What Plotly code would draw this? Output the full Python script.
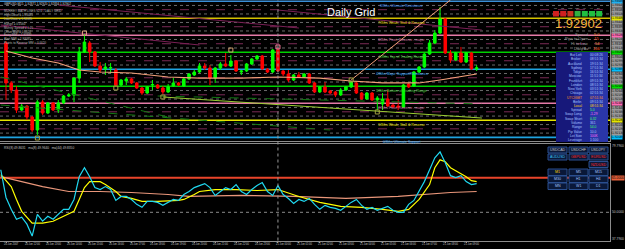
import plotly.graph_objects as go

# ---------------- data ----------------
open_ = [1.93194, 1.92724, 1.92641, 1.92406, 1.92453, 1.92324, 1.92171, 1.92500, 1.92371, 1.92489,
         1.92406, 1.92489, 1.92571, 1.92583, 1.92782, 1.93088, 1.93194, 1.93088, 1.92923, 1.92888,
         1.92900, 1.92876, 1.92700, 1.92747, 1.92771, 1.92724, 1.92665, 1.92606, 1.92700, 1.92700,
         1.92665, 1.92618, 1.92688, 1.92724, 1.92688, 1.92771, 1.92818, 1.92853, 1.92923, 1.92900,
         1.92782, 1.92900, 1.92947, 1.92923, 1.92982, 1.92853, 1.92865, 1.92947, 1.93006, 1.93041,
         1.92888, 1.92853, 1.93111, 1.92865, 1.92829, 1.92759, 1.92818, 1.92794, 1.92829, 1.92724,
         1.92618, 1.92677, 1.92630, 1.92618, 1.92583, 1.92641, 1.92677, 1.92724, 1.92606, 1.92536,
         1.92606, 1.92524, 1.92477, 1.92536, 1.92465, 1.92453, 1.92442, 1.92712, 1.92688, 1.92853,
         1.92912, 1.93064, 1.93194, 1.93311, 1.93476, 1.93076, 1.92994, 1.93076, 1.92970, 1.93076,
         1.92888]
high_ = [1.93217, 1.92747, 1.92688, 1.92477, 1.92465, 1.92336, 1.92524, 1.92524, 1.92500, 1.92500,
         1.92524, 1.92583, 1.92606, 1.92794, 1.93147, 1.93311, 1.93217, 1.93100, 1.92970, 1.92959,
         1.92959, 1.92900, 1.92771, 1.92794, 1.92782, 1.92735, 1.92677, 1.92688, 1.92759, 1.92712,
         1.92688, 1.92712, 1.92782, 1.92735, 1.92782, 1.92841, 1.92876, 1.92959, 1.92959, 1.92935,
         1.92912, 1.92970, 1.93076, 1.93053, 1.92994, 1.92876, 1.92959, 1.93017, 1.93053, 1.93053,
         1.92900, 1.93123, 1.93135, 1.92876, 1.92876, 1.92829, 1.92853, 1.92841, 1.92841, 1.92735,
         1.92688, 1.92735, 1.92641, 1.92630, 1.92665, 1.92688, 1.92747, 1.92735, 1.92618, 1.92618,
         1.92618, 1.92571, 1.92606, 1.92641, 1.92477, 1.92524, 1.92712, 1.92724, 1.92865, 1.92923,
         1.93076, 1.93229, 1.93346, 1.93617, 1.93488, 1.93111, 1.93088, 1.93147, 1.93088, 1.93088,
         1.92935]
low_ = [1.92524, 1.92606, 1.92371, 1.92394, 1.92289, 1.92148, 1.92113, 1.92348, 1.92359, 1.92394,
        1.92371, 1.92477, 1.92559, 1.92500, 1.92724, 1.93076, 1.92970, 1.92912, 1.92841, 1.92818,
        1.92841, 1.92677, 1.92688, 1.92700, 1.92712, 1.92653, 1.92583, 1.92594, 1.92641, 1.92653,
        1.92594, 1.92606, 1.92677, 1.92688, 1.92677, 1.92759, 1.92806, 1.92841, 1.92876, 1.92700,
        1.92724, 1.92876, 1.92912, 1.92912, 1.92853, 1.92818, 1.92853, 1.92935, 1.92994, 1.92876,
        1.92841, 1.92841, 1.92853, 1.92806, 1.92735, 1.92747, 1.92782, 1.92782, 1.92712, 1.92606,
        1.92606, 1.92606, 1.92594, 1.92559, 1.92571, 1.92630, 1.92665, 1.92594, 1.92524, 1.92524,
        1.92512, 1.92406, 1.92406, 1.92442, 1.92430, 1.92406, 1.92430, 1.92665, 1.92677, 1.92841,
        1.92900, 1.93053, 1.93182, 1.93299, 1.93064, 1.92959, 1.92982, 1.92959, 1.92959, 1.92876,
        1.92865]
close_ = [1.92724, 1.92641, 1.92406, 1.92453, 1.92324, 1.92171, 1.92500, 1.92371, 1.92489, 1.92406,
          1.92489, 1.92571, 1.92583, 1.92782, 1.93088, 1.93205, 1.93088, 1.92923, 1.92876, 1.92912,
          1.92906, 1.92700, 1.92759, 1.92771, 1.92724, 1.92665, 1.92606, 1.92677, 1.92706, 1.92665,
          1.92618, 1.92677, 1.92724, 1.92700, 1.92771, 1.92829, 1.92853, 1.92923, 1.92900, 1.92782,
          1.92900, 1.92947, 1.92923, 1.92982, 1.92865, 1.92865, 1.92947, 1.93006, 1.93041, 1.92888,
          1.92853, 1.93111, 1.92865, 1.92829, 1.92759, 1.92818, 1.92794, 1.92829, 1.92724, 1.92618,
          1.92677, 1.92618, 1.92606, 1.92583, 1.92641, 1.92677, 1.92735, 1.92606, 1.92536, 1.92606,
          1.92524, 1.92547, 1.92536, 1.92453, 1.92442, 1.92442, 1.92700, 1.92677, 1.92853, 1.92912,
          1.93064, 1.93194, 1.93311, 1.93476, 1.93076, 1.92994, 1.93076, 1.92970, 1.93076, 1.92888,
          1.92902]
bars = list(range(len(close_)))

tick_idx = [0, 4, 8, 12, 16, 20, 24, 28, 32, 36, 40, 44, 48, 52, 56, 60, 64, 68, 72, 76, 80, 84, 88]
tick_text = ["20 Jun 2007", "20 Jun 12:00", "20 Jun 13:00", "20 Jun 14:00", "20 Jun 15:00",
             "20 Jun 16:00", "20 Jun 17:00", "20 Jun 18:00", "20 Jun 19:00", "20 Jun 20:00",
             "20 Jun 21:00", "20 Jun 22:00", "20 Jun 23:00", "21 Jun 00:00", "21 Jun 01:00",
             "21 Jun 02:00", "21 Jun 03:00", "21 Jun 04:00", "21 Jun 05:00", "21 Jun 06:00",
             "21 Jun 07:00", "21 Jun 08:00", "21 Jun 09:00"]
day_break = 52

murrey_levels = [1.92085, 1.92285, 1.92485, 1.92685, 1.92885, 1.93085, 1.93285, 1.93485, 1.93685]
murrey_names = ["0/8ths Ultimate Support", "1/8ths Weak, Stall & Reverse",
                "2/8ths Pivot, Reverse - major", "3/8ths Bottom of Trading Range",
                "4/8ths Major Support/Resistance", "5/8ths Top of Trading Range",
                "6/8ths Pivot, Reverse - major", "7/8ths Weak, Stall & Reverse",
                "8/8ths Ultimate Resistance"]
murrey_line_colors = ["#1fa3e0", "#e6e600", "#e57aa8", "#00d000", "#1fa3e0",
                      "#00d000", "#e57aa8", "#d4c200", "#3a8fd8"]
murrey_text_colors = ["#3fb0ff", "#e6e000", "#d878a8", "#50d040", "#3fb0ff",
                      "#50d040", "#d878a8", "#e0d000", "#4a9cff"]
murrey_tag_colors = ["#00bfff", "#e6e600", "#ff69b4", "#00e000", "#00bfff",
                     "#00e000", "#ff69b4", "#e6e600", "#20b0f0"]

ma_idx = [0, 5, 10, 14, 18, 24, 31, 37, 45, 52, 60, 66, 72, 79, 83, 87, 90]
ma_val = [1.93100, 1.93017, 1.92959, 1.92876, 1.92853, 1.92841, 1.92794, 1.92782, 1.92782,
          1.92794, 1.92782, 1.92747, 1.92724, 1.92724, 1.92759, 1.92794, 1.92829]

trend_idx = [66, 85]
trend_val = [1.92759, 1.93700]

green_lines = [([-1, 31], [1.92794, 1.92324]), ([-1, 62], [1.92465, 1.92171]),
               ([29, 91], [1.92571, 1.92477])]
lime_line = ([30, 91], [1.92559, 1.92312])
purple_lines = [([10, 56], [1.93640, 1.93370]), ([-1, 37], [1.93405, 1.93170]),
                ([52, 91], [1.93581, 1.93346])]

fractal_idx = [6, 15, 21, 30, 43, 52, 66, 71]
fractal_val = [1.92077, 1.93311, 1.92665, 1.92559, 1.93111, 1.93147, 1.92759, 1.92383]
fractal_col = ["#a0a040", "#e0a080", "#a0a040", "#a0a040", "#d0a070", "#ff80a0", "#a0a040", "#a0a040"]

fast_idx = list(range(-1, 91))
fast_val = [68.43, 56.43, 51.29, 47.00, 47.86, 44.86, 39.71, 49.14, 46.14, 48.29, 47.00,
            49.14, 51.29, 51.29, 55.57, 65.43, 69.29, 65.43, 60.71, 59.86, 61.14,
            59.86, 55.14, 56.86, 56.86, 55.57, 53.43, 52.14, 54.71, 54.71, 54.29,
            53.00, 54.29, 55.57, 55.14, 57.71, 59.00, 60.71, 61.57, 62.43, 60.71,
            57.29, 59.00, 60.71, 59.86, 62.00, 59.00, 57.71, 59.86, 61.57, 62.86,
            59.00, 57.29, 61.57, 57.71, 56.00, 53.86, 55.57, 54.71, 56.00, 53.43,
            51.29, 53.00, 52.14, 51.71, 50.86, 52.57, 54.29, 55.57, 53.00, 51.29,
            52.14, 50.86, 51.71, 52.57, 50.86, 50.00, 50.00, 53.43, 55.14, 59.00,
            63.29, 68.43, 73.57, 76.14, 71.43, 65.86, 65.00, 65.86, 63.29, 62.00, 62.43]
signal_idx = [-1, 1, 2, 3, 5, 7, 9, 11, 13, 14, 15, 16, 18, 19, 21, 22, 24, 26, 29, 33, 34, 36,
              37, 40, 44, 48, 52, 56, 60, 64, 68, 72, 75, 77, 79, 81, 82, 83, 84, 85, 87, 88, 89, 90]
signal_val = [66.29, 61.14, 55.57, 50.43, 45.29, 45.29, 46.14, 48.29, 50.43, 55.57, 60.71, 63.29,
              63.29, 62.00, 59.00, 56.86, 56.00, 54.71, 54.71, 55.14, 55.57, 57.71, 59.00, 59.86,
              59.86, 59.43, 59.86, 56.86, 54.29, 52.57, 52.14, 51.29, 50.43, 51.29, 55.57, 62.00,
              69.29, 72.71, 71.86, 69.29, 66.71, 65.43, 63.71, 63.29]
slow_idx = [-1, 3, 7, 12, 18, 24, 31, 35, 45, 55, 65, 75, 80, 85, 90]
slow_val = [65.43, 63.29, 61.14, 59.00, 59.00, 58.57, 57.71, 56.86, 57.29, 56.86, 56.00, 56.86,
            57.71, 58.57, 59.00]
level_hi = 65.0
level_mid = 50.0

last_price = "1.92902"
stats_names = ["Spread", "Pips to Open", "Hi to Low", "Daily Av"]
stats_values = ["5.0", "-15", "54", "106"]
stats_colors = ["#ff9a30", "#ff4a20", "#ffa040", "#ff5a20"]

meter_tf = ["M1", "M5", "M15", "M30", "H1", "H4", "D1"]
meter_col = ["#d02020", "#d02020", "#c83020", "#30b040", "#20c040", "#20c040", "#20c040"]

info_names = ["Bar Left", "Broker", "Auckland", "Sydney", "Tokyo", "Moscow", "Frankfurt",
              "London", "New York", "Chicago", "UTC/GMT", "Berlin", "Local", "Spread",
              "Swap Long", "Swap Short", "Volume", "Range", "Pip Value", "Lot Size", "Leverage"]
info_values = ["00:08:26", "08:51:34", "19:51:34", "17:51:34", "16:51:34", "11:51:34", "09:51:34",
               "08:51:34", "03:51:34", "02:51:34", "07:51:34", "09:51:34", "08:51:34", "5.0",
               "-1.29", "0.32", "361", "54.0", "10.0", "100K", "1:100"]
info_colors = ["#a8c4ff"] * 10 + ["#ff9020", "#a8c4ff", "#ffd700"] + \
              ["#40ff60", "#ff70ff", "#40ff60", "#a8c4ff", "#40ff60", "#a8c4ff", "#ff70ff", "#a8c4ff"]

buttons = [("USDCAD", 0, 0, "#c8c8c8"), ("USDCHF", 1, 0, "#c8c8c8"), ("USDJPY", 2, 0, "#c8c8c8"),
           ("AUDUSD", 0, 1, "#40c8ff"), ("GBPUSD", 1, 1, "#ff2a2a"), ("EURUSD", 2, 1, "#ff2a2a"),
           ("NZDUSD", 2, 2, "#ff2a2a"),
           ("M1", 0, 3, "#ffd000"), ("M5", 1, 3, "#a8c4ff"), ("M15", 2, 3, "#a8c4ff"),
           ("M30", 0, 4, "#a8c4ff"), ("H1", 1, 4, "#a8c4ff"), ("H4", 2, 4, "#a8c4ff"),
           ("MN", 0, 5, "#a8c4ff"), ("W1", 1, 5, "#a8c4ff"), ("D1", 2, 5, "#a8c4ff")]

header_lines = ["GBPUSD,M15  1.92871 1.92920 1.92834 1.92902",
                "MURREY MATH LINES v2.0 - DAILY GRID",
                "High/Close = 1.93485", "Low/Close = 1.92085", "Range = 0.0160",
                "Murrey Spread = 1.25", "Offset MMl = 0.0020", "Entry MMl = 1.92885",
                "Alert MMl = 1.93085", "Points to Reverse MM = 0.0020"]
osc_caption = "RSI(8) 49.8631   ma(8) 49.9640   ma(44) 49.8350"

# ---------------- layout helpers ----------------
W, H = 625, 249
PLOT_R = 610
OSC_BOTTOM = 240.5


def pxx(x):
    return x / W


def pxy(y):
    return 1 - y / H


fig = go.Figure()
shapes = []
ann = []


def text(x, y, s, size, color, xanchor="left", yanchor="middle", xref="paper", yref="paper",
         bg=None, family="Arial"):
    d = dict(x=x, y=y, xref=xref, yref=yref, text=s, showarrow=False, xanchor=xanchor,
             yanchor=yanchor, font=dict(size=size, color=color, family=family), borderpad=0)
    if bg:
        d["bgcolor"] = bg
    ann.append(d)


# --- Murrey grid lines
step = (murrey_levels[1] - murrey_levels[0]) / 4
for k in range(len(murrey_levels) - 1):
    for j in (1, 2, 3):
        lv = murrey_levels[k] + j * step
        if j == 2:
            shapes.append(dict(type="line", xref="x domain", x0=0, x1=1, yref="y", y0=lv, y1=lv,
                               line=dict(color="#7a2a55", width=1, dash="dash"), layer="below"))
        else:
            shapes.append(dict(type="line", xref="x domain", x0=0, x1=1, yref="y", y0=lv, y1=lv,
                               line=dict(color="#6a6a6a", width=1, dash="dot"), layer="below"))
for lv, c in zip(murrey_levels, murrey_line_colors):
    shapes.append(dict(type="line", xref="x domain", x0=0, x1=1, yref="y", y0=lv, y1=lv,
                       line=dict(color=c, width=1.6), layer="below"))

# trend/diagonal lines
for xs, ys in purple_lines:
    fig.add_trace(go.Scatter(x=xs, y=ys, mode="lines", line=dict(color="#7a1f55", width=1),
                             hoverinfo="skip", xaxis="x", yaxis="y"))
for xs, ys in green_lines:
    fig.add_trace(go.Scatter(x=xs, y=ys, mode="lines", line=dict(color="#137a13", width=1, dash="dash"),
                             hoverinfo="skip", xaxis="x", yaxis="y"))
fig.add_trace(go.Scatter(x=lime_line[0], y=lime_line[1], mode="lines",
                         line=dict(color="#9acd32", width=1), hoverinfo="skip", xaxis="x", yaxis="y"))
fig.add_trace(go.Scatter(x=ma_idx, y=ma_val, mode="lines", line=dict(color="#f4a07a", width=1.2),
                         hoverinfo="skip", xaxis="x", yaxis="y"))
fig.add_trace(go.Scatter(x=trend_idx, y=trend_val, mode="lines", line=dict(color="#f4a07a", width=1),
                         hoverinfo="skip", xaxis="x", yaxis="y"))

fig.add_trace(go.Candlestick(
    x=bars, open=open_, high=high_, low=low_, close=close_, xaxis="x", yaxis="y",
    increasing=dict(line=dict(color="#00ff00", width=1), fillcolor="#00ff00"),
    decreasing=dict(line=dict(color="#ff0000", width=1), fillcolor="#ff0000"),
    whiskerwidth=0, hoverinfo="skip"))

fig.add_trace(go.Scatter(x=fractal_idx, y=fractal_val, mode="markers",
                         marker=dict(symbol="square-open", size=4, color=fractal_col,
                                     line=dict(width=1, color=fractal_col)),
                         hoverinfo="skip", xaxis="x", yaxis="y"))

# --- oscillator
shapes.append(dict(type="line", xref="x2 domain", x0=0, x1=1, yref="y2", y0=level_mid, y1=level_mid,
                   line=dict(color="#8a8a8a", width=1, dash="dot"), layer="below"))
shapes.append(dict(type="line", xref="x2 domain", x0=0, x1=1, yref="y2", y0=level_hi, y1=level_hi,
                   line=dict(color="#e8442a", width=2), layer="below"))
fig.add_trace(go.Scatter(x=slow_idx, y=slow_val, mode="lines", line=dict(color="#e9967a", width=1.2),
                         hoverinfo="skip", xaxis="x2", yaxis="y2"))
fig.add_trace(go.Scatter(x=signal_idx, y=signal_val, mode="lines", line=dict(color="#ffff00", width=1.2),
                         hoverinfo="skip", xaxis="x2", yaxis="y2"))
fig.add_trace(go.Scatter(x=fast_idx, y=fast_val, mode="lines", line=dict(color="#20d8f0", width=1.2),
                         hoverinfo="skip", xaxis="x2", yaxis="y2"))

# day separator
shapes.append(dict(type="line", xref="x", x0=day_break, x1=day_break, yref="paper",
                   y0=pxy(OSC_BOTTOM), y1=1, line=dict(color="#9a9a9a", width=1, dash="dot")))

# time labels along the bottom axis (placed by the x scale, left-aligned at each tick)
for ti, tt in zip(tick_idx, tick_text):
    ann.append(dict(x=ti, y=pxy(244.3), xref="x2", yref="paper", text=tt, showarrow=False,
                    xanchor="left", xshift=-4, yanchor="middle",
                    font=dict(size=2.6, color="#c8c8c8", family="Arial")))

# --- texts on the main chart
for k, s in enumerate(header_lines):
    ys = [4, 11, 15, 19, 24, 28, 31.5, 35, 39, 42.5][k]
    text(pxx(3), pxy(ys), s, 3.0, "#d0d0d0" if k == 0 else "#b8b8b8")
text(pxx(351), pxy(12), "Daily Grid", 11, "#ffffff", xanchor="center")
for lv, nm, c in zip(murrey_levels, murrey_names, murrey_text_colors):
    ann.append(dict(x=75.7, y=lv, xref="x", yref="y", text=nm, showarrow=False, xanchor="center",
                    yanchor="top", yshift=-0.5, font=dict(size=3.6, color=c, family="Arial")))

# right price strip
for k in range(len(murrey_levels) - 1):
    for j in range(4):
        lv = murrey_levels[k] + j * step
        col = murrey_tag_colors[k] if j == 0 else "#9a9a9a"
        text(pxx(611), lv, "%.4f" % lv, 3.3, "#000000", yref="y", bg=col)
text(pxx(611), murrey_levels[-1], "%.4f" % murrey_levels[-1], 3.3, "#000000", yref="y",
     bg=murrey_tag_colors[-1])

# info: big price, stats, strength meter
text(pxx(603), pxy(23), last_price, 13, "#f5b53c", xanchor="right")
for k, (n, v, c) in enumerate(zip(stats_names, stats_values, stats_colors)):
    yy = 34 + k * 4.7
    text(pxx(589), pxy(yy), n, 4.0, "#a0a0a0", xanchor="right")
    text(pxx(601), pxy(yy), v, 4.0, c, xanchor="right")
for k, (tf, c) in enumerate(zip(meter_tf, meter_col)):
    x0 = 553 + k * 7.2
    shapes.append(dict(type="rect", xref="paper", yref="paper", x0=pxx(x0), x1=pxx(x0 + 6),
                       y0=pxy(16.5), y1=pxy(11), fillcolor=c, line=dict(width=0)))
    text(pxx(x0 + 3), pxy(8), tf, 2.2, "#c0c0c0", xanchor="center")

# info box
for (a, b, c) in [(556, 574, "#17187a"), (574, 590, "#1f2896"), (590, 608, "#2a36a8")]:
    shapes.append(dict(type="rect", xref="paper", yref="paper", x0=pxx(a), x1=pxx(b),
                       y0=pxy(142), y1=pxy(52), fillcolor=c, line=dict(width=0), layer="above"))
for k, (n, v, c) in enumerate(zip(info_names, info_values, info_colors)):
    yy = 55 + k * 4.25
    ncol = c if n in ("UTC/GMT", "Local") else "#a8c4ff"
    text(pxx(583), pxy(yy), n, 3.3, ncol, xanchor="right")
    text(pxx(589), pxy(yy), v, 3.3, c)

# oscillator captions and buttons
text(pxx(3), pxy(147.5), osc_caption, 3.2, "#c0c0c0")
colx = [(548, 567), (569, 588), (589, 608)]
rowy = [(147, 153), (154, 160), (161.5, 167.5), (169, 175.5), (176, 182.5), (183, 189.5)]
for lab, cx, ry, c in buttons:
    x0, x1 = colx[cx]
    y0, y1 = rowy[ry]
    shapes.append(dict(type="rect", xref="paper", yref="paper", x0=pxx(x0), x1=pxx(x1),
                       y0=pxy(y1), y1=pxy(y0), fillcolor="#0a1838",
                       line=dict(color="#2b4f8f", width=1)))
    text(pxx((x0 + x1) / 2), pxy((y0 + y1) / 2), lab, 3.6, c, xanchor="center")

# oscillator right labels
text(pxx(611), pxy(146), "79.7900", 3.3, "#c0c0c0")
text(pxx(611), level_hi, "%.4f" % level_hi, 3.3, "#000000", yref="y2", bg="#e8603a")
text(pxx(611), level_mid, "%.4f" % level_mid, 3.3, "#c0c0c0", yref="y2")
text(pxx(611), pxy(238.5), "37.7900", 3.3, "#c0c0c0")

axis_common = dict(showgrid=False, zeroline=False, showline=True, linecolor="#8c8c8c", mirror=True,
                   automargin=False, fixedrange=True)
fig.update_layout(
    template="none",
    width=W, height=H, margin=dict(l=0, r=0, t=0, b=0),
    paper_bgcolor="#000000", plot_bgcolor="#000000", showlegend=False,
    xaxis=dict(domain=[0, PLOT_R / W], range=[-1.15, 115.5], showticklabels=False, ticks="",
               rangeslider=dict(visible=False), anchor="y", **axis_common),
    yaxis=dict(domain=[pxy(141), 1], range=[1.92042, 1.93699], showticklabels=False, ticks="",
               anchor="x", **axis_common),
    xaxis2=dict(domain=[0, PLOT_R / W], range=[-1.15, 115.5], anchor="y2", matches="x",
                tickmode="array", tickvals=tick_idx, showticklabels=False,
                ticks="outside", ticklen=1, tickcolor="#8c8c8c", **axis_common),
    yaxis2=dict(domain=[pxy(OSC_BOTTOM), pxy(143.5)], range=[37.79, 79.79], showticklabels=False,
                ticks="", anchor="x2", **axis_common),
    shapes=shapes, annotations=ann,
)

fig.write_html("out.html")
